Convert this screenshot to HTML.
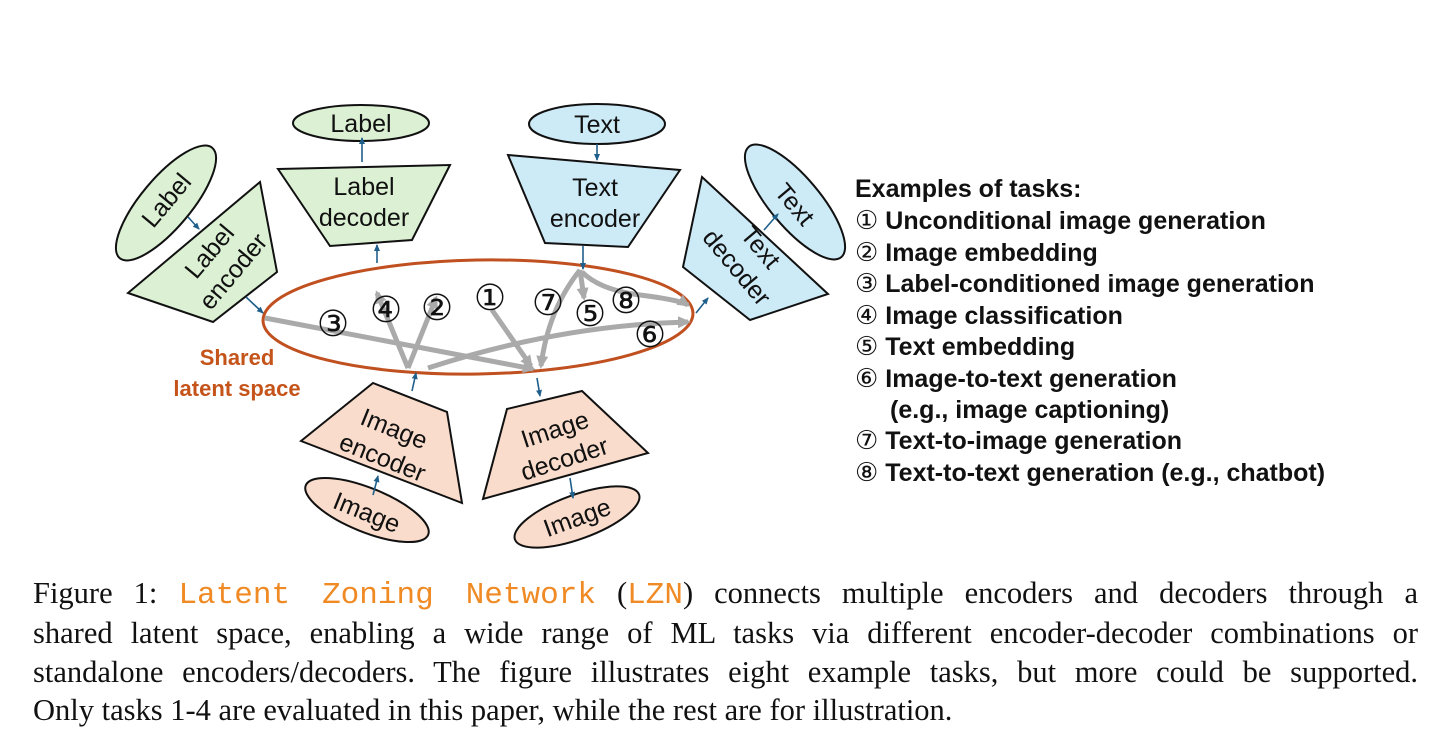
<!DOCTYPE html>
<html><head><meta charset="utf-8"><style>
body{margin:0;background:#fff;width:1456px;height:755px;overflow:hidden;position:relative}
.cl{position:absolute;left:33px;width:1385px;font-family:"Liberation Serif",serif;font-size:30.5px;line-height:36px;color:#111;white-space:nowrap}
.j{text-align:justify;text-align-last:justify;white-space:normal}
.mono{font-family:"Liberation Mono",monospace;color:#f08a24;font-size:31px}
</style></head><body>
<svg width="1456" height="560" style="position:absolute;left:0;top:0" font-family="Liberation Sans, DejaVu Sans, sans-serif">
<defs>
<marker id="b" markerWidth="8" markerHeight="8" refX="6" refY="3" orient="auto" markerUnits="userSpaceOnUse"><path d="M0,0 L7,3 L0,6 z" fill="#1f5f8b"/></marker>
<marker id="g" markerWidth="16" markerHeight="16" refX="10" refY="6" orient="auto" markerUnits="userSpaceOnUse"><path d="M0,0 L13,6 L0,12 z" fill="#aaa"/></marker>
</defs>
<g stroke="#111" stroke-width="2">
<ellipse cx="361" cy="123" rx="68" ry="18" fill="#dcf1d4"/>
<polygon points="278,169 450,165 412,240 330,246" fill="#dcf1d4"/>
<ellipse cx="166" cy="203" rx="72" ry="25" transform="rotate(-50 166 203)" fill="#dcf1d4"/>
<polygon points="128,293 260,182 277,272 213,322" fill="#dcf1d4"/>
<ellipse cx="597" cy="124" rx="68" ry="20" fill="#cdeaf7"/>
<polygon points="508,155 680,170 628,247 545,243" fill="#cdeaf7"/>
<polygon points="702,177 828,294 750,320 683,267" fill="#cdeaf7"/>
<ellipse cx="795" cy="202" rx="72" ry="25" transform="rotate(50 795 202)" fill="#cdeaf7"/>
<polygon points="301,441 373,383 447,412 462,503" fill="#f9dccb"/>
<polygon points="507,409 582,391 648,453 483,499" fill="#f9dccb"/>
<ellipse cx="367" cy="510" rx="66" ry="22" transform="rotate(22 367 510)" fill="#f9dccb"/>
<ellipse cx="577" cy="517" rx="66" ry="22" transform="rotate(-20 577 517)" fill="#f9dccb"/>
</g>
<ellipse cx="478" cy="317" rx="215" ry="57" transform="rotate(-1 478 317)" fill="none" stroke="#c0501f" stroke-width="3"/>
<g stroke="#aaa" stroke-width="5" fill="none" marker-end="url(#g)">
<path d="M265,318 L533,369"/>
<path d="M408,368 L377,293"/>
<path d="M408,368 L436,298"/>
<path d="M492,310 L531,366"/>
<path d="M580,270 Q548,310 541,366"/>
<path d="M580,270 L584,298"/>
<path d="M582,272 Q600,290 640,295 T688,305"/>
<path d="M428,368 Q560,325 688,322"/>
</g>
<g stroke="#1f5f8b" stroke-width="1.6" marker-end="url(#b)">
<line x1="362" y1="162" x2="362" y2="138"/>
<line x1="377" y1="263" x2="377" y2="245"/>
<line x1="597" y1="144" x2="597" y2="160"/>
<line x1="583" y1="246" x2="583" y2="269"/>
<line x1="188" y1="217" x2="199" y2="229"/>
<line x1="246" y1="297" x2="263" y2="313"/>
<line x1="696" y1="313" x2="708" y2="298"/>
<line x1="764" y1="230" x2="778" y2="214"/>
<line x1="412" y1="391" x2="416" y2="373"/>
<line x1="537" y1="378" x2="540" y2="396"/>
<line x1="373" y1="495" x2="378" y2="476"/>
<line x1="570" y1="478" x2="573" y2="498"/>
</g>
<g font-size="25" fill="#111" text-anchor="middle">
<text x="361" y="132">Label</text>
<text x="364" y="195">Label</text><text x="364" y="226">decoder</text>
<text x="597" y="133">Text</text>
<text x="595" y="196">Text</text><text x="595" y="227">encoder</text>
<g transform="rotate(-50 166 200)"><text x="166" y="209">Label</text></g>
<g transform="rotate(-50 222 262)"><text x="222" y="254">Label</text><text x="222" y="285">encoder</text></g>
<g transform="rotate(50 748 258)"><text x="748" y="250">Text</text><text x="748" y="281">decoder</text></g>
<g transform="rotate(50 795 204)"><text x="795" y="213">Text</text></g>
<g transform="rotate(22 388 444)"><text x="388" y="436">Image</text><text x="388" y="467">encoder</text></g>
<g transform="rotate(-18 560 445)"><text x="560" y="437">Image</text><text x="560" y="468">decoder</text></g>
<g transform="rotate(22 367 512)"><text x="367" y="521">Image</text></g>
<g transform="rotate(-20 577 517)"><text x="577" y="526">Image</text></g>
</g>
<g font-size="36" fill="#111" text-anchor="middle" font-family="DejaVu Sans, sans-serif">
<text x="333" y="336">③</text><text x="386" y="322">④</text><text x="437" y="320">②</text><text x="490" y="310">①</text>
<text x="548" y="315">⑦</text><text x="590" y="326">⑤</text><text x="626" y="313">⑧</text><text x="650" y="347">⑥</text>
</g>
<g font-size="22" font-weight="bold" fill="#c5541a" text-anchor="middle">
<text x="237" y="365">Shared</text><text x="237" y="396">latent space</text>
</g>
<g font-size="25" font-weight="bold" fill="#111">
<text x="855" y="197">Examples of tasks:</text>
<text x="855" y="229"><tspan font-weight="normal" font-family="DejaVu Sans" font-size="26">①</tspan> Unconditional image generation</text>
<text x="855" y="261"><tspan font-weight="normal" font-family="DejaVu Sans" font-size="26">②</tspan> Image embedding</text>
<text x="855" y="292"><tspan font-weight="normal" font-family="DejaVu Sans" font-size="26">③</tspan> Label-conditioned image generation</text>
<text x="855" y="324"><tspan font-weight="normal" font-family="DejaVu Sans" font-size="26">④</tspan> Image classification</text>
<text x="855" y="355"><tspan font-weight="normal" font-family="DejaVu Sans" font-size="26">⑤</tspan> Text embedding</text>
<text x="855" y="387"><tspan font-weight="normal" font-family="DejaVu Sans" font-size="26">⑥</tspan> Image-to-text generation</text>
<text x="890" y="418">(e.g., image captioning)</text>
<text x="855" y="449"><tspan font-weight="normal" font-family="DejaVu Sans" font-size="26">⑦</tspan> Text-to-image generation</text>
<text x="855" y="481"><tspan font-weight="normal" font-family="DejaVu Sans" font-size="26">⑧</tspan> Text-to-text generation (e.g., chatbot)</text>
</g>
</svg>
<div class="cl j" style="top:575px">Figure 1: <span class="mono">Latent Zoning Network</span> (<span class="mono">LZN</span>) connects multiple encoders and decoders through a</div>
<div class="cl j" style="top:615px">shared latent space, enabling a wide range of ML tasks via different encoder-decoder combinations or</div>
<div class="cl j" style="top:654px">standalone encoders/decoders. The figure illustrates eight example tasks, but more could be supported.</div>
<div class="cl" style="top:692px">Only tasks 1-4 are evaluated in this paper, while the rest are for illustration.</div>
</body></html>
